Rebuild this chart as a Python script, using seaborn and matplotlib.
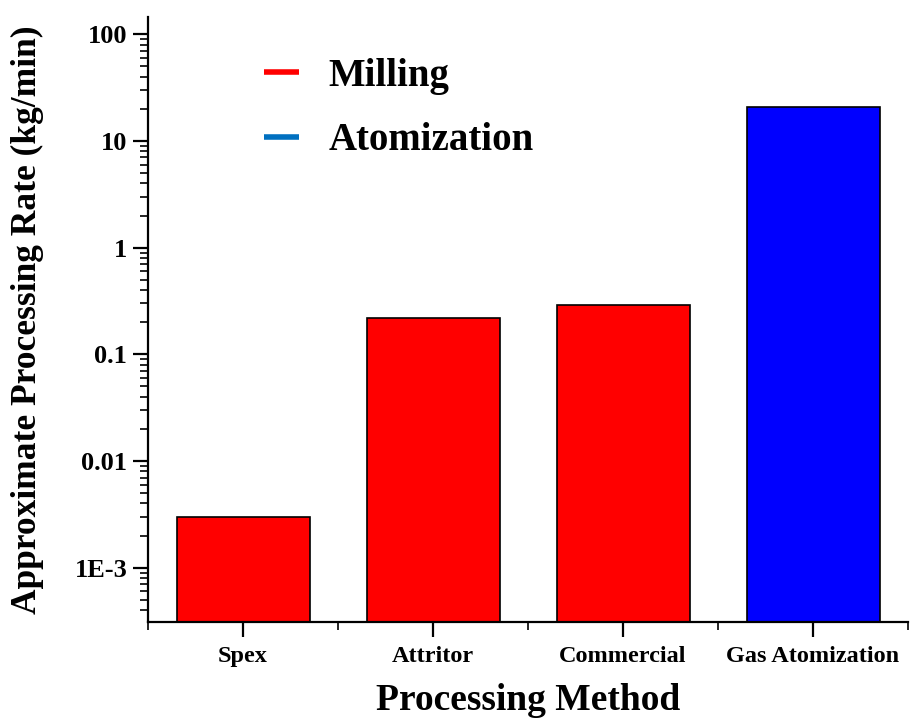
import numpy as np
import pandas as pd
import matplotlib
matplotlib.use("Agg")
import matplotlib.pyplot as plt
from matplotlib.lines import Line2D
from matplotlib.ticker import FixedLocator, FixedFormatter, LogLocator, NullFormatter
import seaborn as sns

# data
methods = ['Spex', 'Attritor', 'Commercial', 'Gas Atomization']
rates = [0.003, 0.22, 0.29, 21]
groups = ['Milling', 'Milling', 'Milling', 'Atomization']

ytick_vals = [1e-3, 0.01, 0.1, 1, 10, 100]
ytick_labels = ['1E-3', '0.01', '0.1', '1', '10', '100']

bar_colors = {'Milling': '#ff0000', 'Atomization': '#0000ff'}
legend_colors = {'Milling': '#ff0000', 'Atomization': '#0070c0'}

sns.set_style('ticks')
plt.rcParams['font.family'] = ['Liberation Serif', 'DejaVu Serif']
plt.rcParams['font.weight'] = 'bold'
plt.rcParams['axes.labelweight'] = 'bold'
plt.rcParams['text.color'] = 'black'
plt.rcParams['axes.labelcolor'] = 'black'
plt.rcParams['xtick.color'] = 'black'
plt.rcParams['ytick.color'] = 'black'

df = pd.DataFrame({'method': methods, 'rate': rates, 'group': groups})

fig = plt.figure(figsize=(9.18, 7.2), dpi=100)
ax = fig.add_axes([148 / 918, 1 - 622 / 720, (908 - 148) / 918, (622 - 17) / 720])

sns.barplot(data=df, x='method', y='rate', hue='group', palette=bar_colors,
            dodge=False, width=0.7, edgecolor='black', linewidth=1.2,
            saturation=1, legend=False, ax=ax, log_scale=(False, True))

ax.set_yscale('log')
ax.set_ylim(3.1e-4, 145)
ax.set_xlim(-0.5, 3.5)

ax.yaxis.set_major_locator(FixedLocator(ytick_vals))
ax.yaxis.set_major_formatter(FixedFormatter(ytick_labels))
ax.yaxis.set_minor_locator(LogLocator(base=10, subs=np.arange(2, 10), numticks=20))
ax.yaxis.set_minor_formatter(NullFormatter())

ax.set_xticks(range(len(methods)))
ax.set_xticklabels(methods)
ax.set_xticks(np.arange(-0.5, 4.0, 1.0), minor=True)

ax.tick_params(axis='both', which='major', direction='out', length=11, width=1.6, color='black')
ax.tick_params(axis='both', which='minor', direction='out', length=6, width=1.2, color='black')
ax.tick_params(axis='y', labelsize=19, pad=4)
ax.tick_params(axis='x', labelsize=17.5, pad=6)

for s in ['top', 'right']:
    ax.spines[s].set_visible(False)
for s in ['left', 'bottom']:
    ax.spines[s].set_linewidth(1.6)
    ax.spines[s].set_color('black')

ax.set_xlabel('Processing Method', fontsize=27, fontweight='bold', labelpad=12)
ax.set_ylabel('Approximate Processing Rate (kg/min)', fontsize=25.5, fontweight='bold', labelpad=22)

handles = [Line2D([0], [0], color=legend_colors[g], lw=4, solid_capstyle='butt')
           for g in ['Milling', 'Atomization']]
fig.legend(handles, ['Milling', 'Atomization'], loc='upper left',
           bbox_to_anchor=(264 / 918, 1 - 58 / 720), frameon=False,
           prop={'size': 28, 'weight': 'bold'}, handlelength=0.9,
           handletextpad=0.75, labelspacing=0.7, borderpad=0, borderaxespad=0)

fig.savefig('out.png', dpi=100)
